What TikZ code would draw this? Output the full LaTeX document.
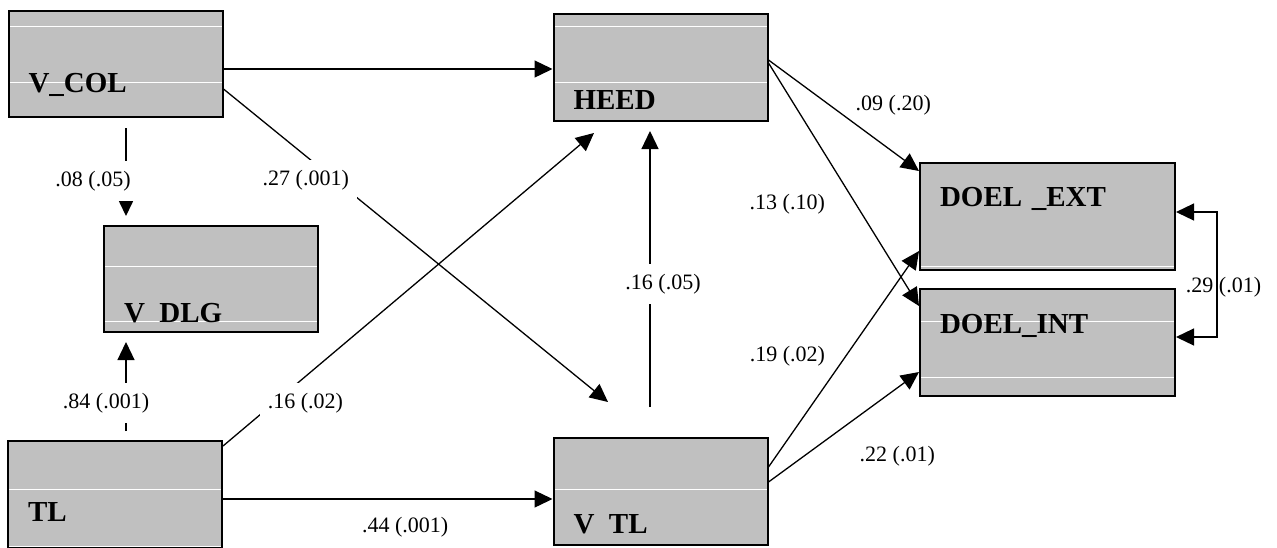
\documentclass[tikz,border=0pt]{standalone}
\usepackage{fontspec}
\setmainfont{Liberation Serif}
\usetikzlibrary{arrows.meta,positioning}
\definecolor{boxgray}{RGB}{192,192,192}

\begin{document}
\begin{tikzpicture}[x=0.5pt,y=-0.5pt,line width=0.65pt,
	>={Triangle[length=9pt,width=8.5pt]},
	var/.style={draw,line width=1pt,fill=boxgray,inner xsep=10pt,inner ysep=0pt,
		text width=87pt,align=left,font=\bfseries\fontsize{14.5}{16}\selectfont},
	wide/.style={text width=107.5pt},
	stripes/.style={path picture={
		\foreach \r in {#1}
			\draw[white,line width=0.5pt]
				([yshift=-\r*0.5pt]path picture bounding box.north west) --
				([yshift=-\r*0.5pt]path picture bounding box.north east);}},
	coef/.style={font=\fontsize{11}{13}\selectfont,inner sep=2pt},
	cut/.style={coef,fill=white,inner xsep=4pt,inner ysep=5pt}]
	\useasboundingbox (0,0) rectangle (1277,547);

	\node[var,stripes={15,71},text height=40.5pt,text depth=12.5pt] (vcol) at (115.5,64) {V\_COL};
	\node[var,stripes={12,68},text height=47.5pt,text depth=6pt] (heed) at (660.5,67.5) {HEED};
	\node[var,stripes={40,95},text height=48pt,text depth=5pt] (vdlg) at (211,279) {V\phantom{\_}DLG};
	\node[var,wide,stripes={103},text height=21.5pt,text depth=32pt] (dext) at (1047.5,216.5) {DOEL \_EXT};
	\node[var,wide,stripes={32,88},text height=22pt,text depth=31.5pt] (dint) at (1047.5,342.5) {DOEL\_INT};
	\node[var,stripes={48,105},text height=40pt,text depth=13.5pt] (tl) at (115,494.5) {TL};
	\node[var,stripes={51},text height=47.5pt,text depth=6pt] (vtl) at (660.5,491.5) {V\phantom{\_}TL};

	\draw[->] ([yshift=-2.5pt]vcol.east) -- ([yshift=-2.5pt]vcol.east -| heed.west);
	\draw[->] ([yshift=-12.5pt]vcol.east) -- node[cut,pos=0.214,yshift=-12pt] {.27 (.001)} ([xshift=-26.25pt,yshift=17.5pt]vtl.north);
	\draw[->] ([xshift=5.25pt,yshift=-5pt]vcol.south) -- node[cut,pos=0.6,xshift=-16.5pt] {.08 (.05)} ([xshift=-42.5pt,yshift=4.5pt]vdlg.north);
	\draw[->] ([xshift=5.5pt,yshift=4.5pt]tl.north) -- node[cut,pos=0.31,xshift=-10pt] {.84 (.001)} ([xshift=-42.5pt,yshift=-4.5pt]vdlg.south);
	\draw[->] ([yshift=-3pt]tl.north east) -- node[cut,pos=0.222,yshift=-13.25pt] {.16 (.02)} ([xshift=-33.25pt,yshift=-5.5pt]heed.south);
	\draw[->] ([yshift=-2.25pt]tl.east) -- node[coef,pos=0.553,yshift=-14pt] {.44 (.001)} ([yshift=-2.25pt]tl.east -| vtl.west);
	\draw[->] ([xshift=-5.25pt,yshift=15pt]vtl.north) -- node[cut,pos=0.444,xshift=6.5pt] {.16 (.05)} ([xshift=-5.25pt,yshift=-4.5pt]heed.south);

	\draw[->] ([yshift=3.75pt]heed.east) -- node[coef,pos=0.5,xshift=24.75pt,yshift=5.25pt] {.09 (.20)} ([yshift=-4.5pt]dext.north west);
	\draw[->] ([yshift=2.25pt]heed.east) -- node[coef,pos=0.58,xshift=-34.25pt] {.13 (.10)} ([yshift=-9pt]dint.north west);
	\draw[->] ([yshift=12.25pt]vtl.east) -- node[coef,pos=0.514,xshift=-29.25pt] {.19 (.02)} ([yshift=10pt]dext.south west);
	\draw[->] ([yshift=4.75pt]vtl.east) -- node[coef,pos=0.5,xshift=26.75pt,yshift=-14.5pt] {.22 (.01)} ([yshift=12.5pt]dint.south west);

	\draw[<->] ([yshift=2.25pt]dext.east) -- ++(20.5pt,0) |- node[coef,pos=0.25,xshift=3.25pt,yshift=-6.5pt] {.29 (.01)} ([yshift=2.75pt]dint.east);

\end{tikzpicture}
\end{document}
